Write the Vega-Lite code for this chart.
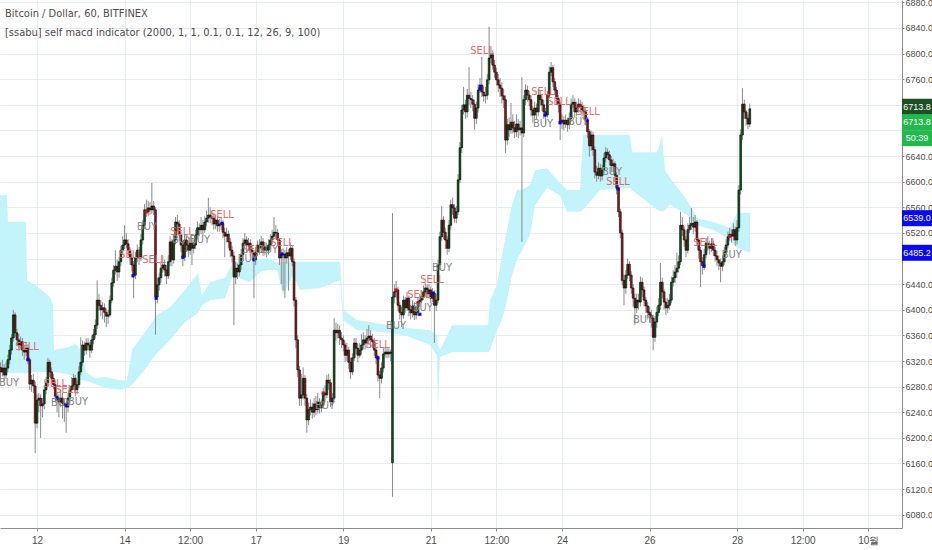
{
"$schema": "https://vega.github.io/schema/vega-lite/v6.json",
"width": 902, "height": 528,
"autosize": {"type": "none"},
"padding": {"left": 0, "top": 0, "right": 30, "bottom": 22},
"background": "white",
"config": {
  "view": {"stroke": null},
  "axis": {"labelFont": "Liberation Sans", "labelFontSize": 10, "labelColor": "#4d4d4d", "domainColor": "#8c8c8c", "tickColor": "#8c8c8c", "gridColor": "#e6edf3", "tickSize": 3, "labelOverlap": false}
},
"resolve": {"scale": {"color": "independent", "fill": "independent"}},
"title": {"text": "Bitcoin / Dollar, 60, BITFINEX", "subtitle": "[ssabu] self macd indicator (2000, 1, 1, 0.1, 0.1, 12, 26, 9, 100)", "anchor": "start", "frame": "group", "orient": "top", "offset": -40, "dx": 5, "font": "Liberation Sans Narrow, DejaVu Sans Condensed, sans-serif", "fontSize": 11, "fontWeight": "normal", "color": "#4d4d4d", "subtitleFont": "Liberation Sans Narrow, DejaVu Sans Condensed, sans-serif", "subtitleFontSize": 11, "subtitleColor": "#4d4d4d", "subtitlePadding": 8},
"datasets": {
"cloud": [
{"t":"2018-09-11T03:00Z","top":6579,"bot":6301},
{"t":"2018-09-11T07:32Z","top":6579,"bot":6301},
{"t":"2018-09-11T08:05Z","top":6537,"bot":6301},
{"t":"2018-09-11T17:58Z","top":6537,"bot":6301},
{"t":"2018-09-11T18:31Z","top":6446,"bot":6301},
{"t":"2018-09-11T22:54Z","top":6439,"bot":6303},
{"t":"2018-09-12T07:08Z","top":6420,"bot":6303},
{"t":"2018-09-12T08:46Z","top":6407,"bot":6303},
{"t":"2018-09-12T09:19Z","top":6337,"bot":6303},
{"t":"2018-09-12T18:06Z","top":6342,"bot":6298},
{"t":"2018-09-12T20:50Z","top":6348,"bot":6293},
{"t":"2018-09-13T00:41Z","top":6334,"bot":6290},
{"t":"2018-09-13T02:53Z","top":6303,"bot":6289},
{"t":"2018-09-13T07:49Z","top":6293,"bot":6284},
{"t":"2018-09-13T13:18Z","top":6295,"bot":6278},
{"t":"2018-09-13T21:32Z","top":6290,"bot":6275},
{"t":"2018-09-14T01:22Z","top":6290,"bot":6278},
{"t":"2018-09-14T04:07Z","top":6337,"bot":6283},
{"t":"2018-09-14T10:09Z","top":6361,"bot":6303},
{"t":"2018-09-14T14:00Z","top":6376,"bot":6318},
{"t":"2018-09-14T17:49Z","top":6392,"bot":6332},
{"t":"2018-09-15T00:58Z","top":6404,"bot":6353},
{"t":"2018-09-15T09:11Z","top":6431,"bot":6381},
{"t":"2018-09-15T16:19Z","top":6457,"bot":6395},
{"t":"2018-09-15T18:31Z","top":6423,"bot":6407},
{"t":"2018-09-15T22:54Z","top":6443,"bot":6415},
{"t":"2018-09-16T07:08Z","top":6450,"bot":6418},
{"t":"2018-09-16T11:31Z","top":6475,"bot":6454},
{"t":"2018-09-16T20:50Z","top":6475,"bot":6443},
{"t":"2018-09-17T02:20Z","top":6478,"bot":6459},
{"t":"2018-09-17T06:43Z","top":6481,"bot":6462},
{"t":"2018-09-17T11:39Z","top":6473,"bot":6462},
{"t":"2018-09-17T14:56Z","top":6475,"bot":6423},
{"t":"2018-09-17T20:26Z","top":6475,"bot":6454},
{"t":"2018-09-18T00:16Z","top":6475,"bot":6431},
{"t":"2018-09-18T11:14Z","top":6475,"bot":6434},
{"t":"2018-09-18T22:13Z","top":6475,"bot":6446},
{"t":"2018-09-18T23:52Z","top":6400,"bot":6384},
{"t":"2018-09-19T07:32Z","top":6384,"bot":6368},
{"t":"2018-09-20T01:38Z","top":6376,"bot":6364},
{"t":"2018-09-20T10:58Z","top":6372,"bot":6359},
{"t":"2018-09-20T23:35Z","top":6368,"bot":6345},
{"t":"2018-09-21T03:25Z","top":6361,"bot":6329},
{"t":"2018-09-21T03:58Z","top":6345,"bot":6248},
{"t":"2018-09-21T05:04Z","top":6337,"bot":6326},
{"t":"2018-09-21T11:39Z","top":6376,"bot":6334},
{"t":"2018-09-22T07:24Z","top":6376,"bot":6334},
{"t":"2018-09-22T08:30Z","top":6415,"bot":6337},
{"t":"2018-09-22T12:20Z","top":6439,"bot":6368},
{"t":"2018-09-22T15:05Z","top":6486,"bot":6384},
{"t":"2018-09-22T17:49Z","top":6525,"bot":6415},
{"t":"2018-09-22T20:34Z","top":6564,"bot":6454},
{"t":"2018-09-22T23:18Z","top":6587,"bot":6478},
{"t":"2018-09-23T02:03Z","top":6587,"bot":6493},
{"t":"2018-09-23T06:26Z","top":6595,"bot":6517},
{"t":"2018-09-23T09:11Z","top":6618,"bot":6563},
{"t":"2018-09-23T15:46Z","top":6621,"bot":6590},
{"t":"2018-09-23T22:54Z","top":6598,"bot":6579},
{"t":"2018-09-24T02:44Z","top":6587,"bot":6553},
{"t":"2018-09-24T09:52Z","top":6587,"bot":6553},
{"t":"2018-09-24T11:31Z","top":6673,"bot":6556},
{"t":"2018-09-24T20:50Z","top":6673,"bot":6587},
{"t":"2018-09-25T13:17Z","top":6673,"bot":6590},
{"t":"2018-09-25T14:23Z","top":6646,"bot":6587},
{"t":"2018-09-26T04:06Z","top":6646,"bot":6556},
{"t":"2018-09-26T06:51Z","top":6673,"bot":6553},
{"t":"2018-09-26T08:30Z","top":6618,"bot":6556},
{"t":"2018-09-26T11:14Z","top":6606,"bot":6564},
{"t":"2018-09-26T20:34Z","top":6571,"bot":6548},
{"t":"2018-09-27T02:03Z","top":6543,"bot":6532},
{"t":"2018-09-27T10:50Z","top":6537,"bot":6525},
{"t":"2018-09-27T20:09Z","top":6528,"bot":6509},
{"t":"2018-09-28T00:00Z","top":6551,"bot":6497},
{"t":"2018-09-28T07:08Z","top":6551,"bot":6489}
],
"candles": [
{"t":"2018-09-11T04:00Z","o":6310,"h":6318,"l":6292,"c":6303},
{"t":"2018-09-11T05:00Z","o":6303,"h":6322,"l":6296,"c":6309},
{"t":"2018-09-11T06:00Z","o":6309,"h":6315,"l":6288,"c":6298},
{"t":"2018-09-11T07:00Z","o":6298,"h":6318,"l":6292,"c":6309},
{"t":"2018-09-11T08:00Z","o":6309,"h":6330,"l":6303,"c":6322},
{"t":"2018-09-11T09:00Z","o":6322,"h":6345,"l":6315,"c":6337},
{"t":"2018-09-11T10:00Z","o":6337,"h":6362,"l":6330,"c":6356},
{"t":"2018-09-11T11:00Z","o":6356,"h":6400,"l":6350,"c":6392},
{"t":"2018-09-11T12:00Z","o":6392,"h":6396,"l":6358,"c":6364},
{"t":"2018-09-11T13:00Z","o":6364,"h":6370,"l":6344,"c":6353},
{"t":"2018-09-11T14:00Z","o":6353,"h":6362,"l":6336,"c":6345},
{"t":"2018-09-11T15:00Z","o":6345,"h":6358,"l":6338,"c":6350},
{"t":"2018-09-11T16:00Z","o":6350,"h":6356,"l":6328,"c":6337},
{"t":"2018-09-11T17:00Z","o":6337,"h":6345,"l":6322,"c":6334},
{"t":"2018-09-11T18:00Z","o":6334,"h":6350,"l":6328,"c":6340},
{"t":"2018-09-11T19:00Z","o":6340,"h":6346,"l":6315,"c":6322},
{"t":"2018-09-11T20:00Z","o":6322,"h":6326,"l":6275,"c":6284},
{"t":"2018-09-11T21:00Z","o":6284,"h":6298,"l":6272,"c":6290},
{"t":"2018-09-11T22:00Z","o":6290,"h":6300,"l":6270,"c":6281},
{"t":"2018-09-11T23:00Z","o":6281,"h":6288,"l":6176,"c":6223},
{"t":"2018-09-12T00:00Z","o":6223,"h":6268,"l":6215,"c":6259},
{"t":"2018-09-12T01:00Z","o":6259,"h":6270,"l":6240,"c":6262},
{"t":"2018-09-12T02:00Z","o":6262,"h":6268,"l":6200,"c":6250},
{"t":"2018-09-12T03:00Z","o":6250,"h":6262,"l":6232,"c":6253},
{"t":"2018-09-12T04:00Z","o":6253,"h":6282,"l":6245,"c":6275},
{"t":"2018-09-12T05:00Z","o":6275,"h":6295,"l":6268,"c":6286},
{"t":"2018-09-12T06:00Z","o":6286,"h":6325,"l":6280,"c":6318},
{"t":"2018-09-12T07:00Z","o":6318,"h":6322,"l":6295,"c":6303},
{"t":"2018-09-12T08:00Z","o":6303,"h":6310,"l":6285,"c":6293},
{"t":"2018-09-12T09:00Z","o":6293,"h":6300,"l":6276,"c":6283},
{"t":"2018-09-12T10:00Z","o":6283,"h":6290,"l":6255,"c":6265},
{"t":"2018-09-12T11:00Z","o":6265,"h":6272,"l":6240,"c":6262},
{"t":"2018-09-12T12:00Z","o":6262,"h":6268,"l":6232,"c":6256},
{"t":"2018-09-12T13:00Z","o":6256,"h":6275,"l":6248,"c":6262},
{"t":"2018-09-12T14:00Z","o":6262,"h":6270,"l":6230,"c":6254},
{"t":"2018-09-12T15:00Z","o":6254,"h":6262,"l":6225,"c":6251},
{"t":"2018-09-12T16:00Z","o":6251,"h":6258,"l":6208,"c":6248},
{"t":"2018-09-12T17:00Z","o":6248,"h":6270,"l":6240,"c":6262},
{"t":"2018-09-12T18:00Z","o":6262,"h":6282,"l":6255,"c":6275},
{"t":"2018-09-12T19:00Z","o":6275,"h":6295,"l":6270,"c":6281},
{"t":"2018-09-12T20:00Z","o":6281,"h":6300,"l":6275,"c":6293},
{"t":"2018-09-12T21:00Z","o":6293,"h":6298,"l":6265,"c":6275},
{"t":"2018-09-12T22:00Z","o":6275,"h":6290,"l":6268,"c":6283},
{"t":"2018-09-12T23:00Z","o":6283,"h":6312,"l":6278,"c":6303},
{"t":"2018-09-13T00:00Z","o":6303,"h":6357,"l":6298,"c":6318},
{"t":"2018-09-13T01:00Z","o":6318,"h":6352,"l":6312,"c":6345},
{"t":"2018-09-13T02:00Z","o":6345,"h":6350,"l":6328,"c":6337},
{"t":"2018-09-13T03:00Z","o":6337,"h":6355,"l":6330,"c":6348},
{"t":"2018-09-13T04:00Z","o":6348,"h":6356,"l":6336,"c":6345},
{"t":"2018-09-13T05:00Z","o":6345,"h":6350,"l":6325,"c":6337},
{"t":"2018-09-13T06:00Z","o":6337,"h":6360,"l":6332,"c":6353},
{"t":"2018-09-13T07:00Z","o":6353,"h":6370,"l":6346,"c":6361},
{"t":"2018-09-13T08:00Z","o":6361,"h":6385,"l":6355,"c":6376},
{"t":"2018-09-13T09:00Z","o":6376,"h":6446,"l":6370,"c":6415},
{"t":"2018-09-13T10:00Z","o":6415,"h":6425,"l":6398,"c":6407},
{"t":"2018-09-13T11:00Z","o":6407,"h":6415,"l":6390,"c":6400},
{"t":"2018-09-13T12:00Z","o":6400,"h":6412,"l":6385,"c":6403},
{"t":"2018-09-13T13:00Z","o":6403,"h":6410,"l":6380,"c":6396},
{"t":"2018-09-13T14:00Z","o":6396,"h":6402,"l":6373,"c":6390},
{"t":"2018-09-13T15:00Z","o":6390,"h":6400,"l":6378,"c":6392},
{"t":"2018-09-13T16:00Z","o":6392,"h":6422,"l":6388,"c":6415},
{"t":"2018-09-13T17:00Z","o":6415,"h":6450,"l":6410,"c":6442},
{"t":"2018-09-13T18:00Z","o":6442,"h":6470,"l":6436,"c":6462},
{"t":"2018-09-13T19:00Z","o":6462,"h":6493,"l":6455,"c":6468},
{"t":"2018-09-13T20:00Z","o":6468,"h":6478,"l":6445,"c":6459},
{"t":"2018-09-13T21:00Z","o":6459,"h":6482,"l":6450,"c":6475},
{"t":"2018-09-13T22:00Z","o":6475,"h":6500,"l":6468,"c":6493},
{"t":"2018-09-13T23:00Z","o":6493,"h":6515,"l":6486,"c":6501},
{"t":"2018-09-14T00:00Z","o":6501,"h":6532,"l":6495,"c":6509},
{"t":"2018-09-14T01:00Z","o":6509,"h":6520,"l":6496,"c":6503},
{"t":"2018-09-14T02:00Z","o":6503,"h":6510,"l":6485,"c":6493},
{"t":"2018-09-14T03:00Z","o":6493,"h":6498,"l":6470,"c":6481},
{"t":"2018-09-14T04:00Z","o":6481,"h":6488,"l":6460,"c":6470},
{"t":"2018-09-14T05:00Z","o":6470,"h":6476,"l":6418,"c":6454},
{"t":"2018-09-14T06:00Z","o":6454,"h":6490,"l":6448,"c":6481},
{"t":"2018-09-14T07:00Z","o":6481,"h":6502,"l":6474,"c":6493},
{"t":"2018-09-14T08:00Z","o":6493,"h":6498,"l":6470,"c":6481},
{"t":"2018-09-14T09:00Z","o":6481,"h":6518,"l":6476,"c":6509},
{"t":"2018-09-14T10:00Z","o":6509,"h":6540,"l":6502,"c":6532},
{"t":"2018-09-14T11:00Z","o":6532,"h":6565,"l":6526,"c":6556},
{"t":"2018-09-14T12:00Z","o":6556,"h":6572,"l":6545,"c":6553},
{"t":"2018-09-14T13:00Z","o":6553,"h":6570,"l":6546,"c":6559},
{"t":"2018-09-14T14:00Z","o":6559,"h":6568,"l":6548,"c":6556},
{"t":"2018-09-14T15:00Z","o":6556,"h":6598,"l":6550,"c":6562},
{"t":"2018-09-14T16:00Z","o":6562,"h":6570,"l":6548,"c":6556},
{"t":"2018-09-14T17:00Z","o":6556,"h":6560,"l":6361,"c":6420},
{"t":"2018-09-14T18:00Z","o":6420,"h":6450,"l":6410,"c":6439},
{"t":"2018-09-14T19:00Z","o":6439,"h":6458,"l":6430,"c":6450},
{"t":"2018-09-14T20:00Z","o":6450,"h":6475,"l":6442,"c":6465},
{"t":"2018-09-14T21:00Z","o":6465,"h":6485,"l":6458,"c":6470},
{"t":"2018-09-14T22:00Z","o":6470,"h":6478,"l":6452,"c":6462},
{"t":"2018-09-14T23:00Z","o":6462,"h":6470,"l":6440,"c":6453},
{"t":"2018-09-15T00:00Z","o":6453,"h":6485,"l":6448,"c":6475},
{"t":"2018-09-15T01:00Z","o":6475,"h":6515,"l":6468,"c":6506},
{"t":"2018-09-15T02:00Z","o":6506,"h":6510,"l":6468,"c":6478},
{"t":"2018-09-15T03:00Z","o":6478,"h":6518,"l":6472,"c":6509},
{"t":"2018-09-15T04:00Z","o":6509,"h":6545,"l":6502,"c":6537},
{"t":"2018-09-15T05:00Z","o":6537,"h":6548,"l":6522,"c":6534},
{"t":"2018-09-15T06:00Z","o":6534,"h":6540,"l":6508,"c":6517},
{"t":"2018-09-15T07:00Z","o":6517,"h":6522,"l":6490,"c":6501},
{"t":"2018-09-15T08:00Z","o":6501,"h":6508,"l":6468,"c":6482},
{"t":"2018-09-15T09:00Z","o":6482,"h":6518,"l":6476,"c":6509},
{"t":"2018-09-15T10:00Z","o":6509,"h":6515,"l":6490,"c":6501},
{"t":"2018-09-15T11:00Z","o":6501,"h":6508,"l":6482,"c":6493},
{"t":"2018-09-15T12:00Z","o":6493,"h":6512,"l":6486,"c":6504},
{"t":"2018-09-15T13:00Z","o":6504,"h":6510,"l":6470,"c":6496},
{"t":"2018-09-15T14:00Z","o":6496,"h":6510,"l":6488,"c":6501},
{"t":"2018-09-15T15:00Z","o":6501,"h":6525,"l":6495,"c":6517},
{"t":"2018-09-15T16:00Z","o":6517,"h":6538,"l":6510,"c":6528},
{"t":"2018-09-15T17:00Z","o":6528,"h":6535,"l":6515,"c":6525},
{"t":"2018-09-15T18:00Z","o":6525,"h":6545,"l":6518,"c":6532},
{"t":"2018-09-15T19:00Z","o":6532,"h":6540,"l":6516,"c":6525},
{"t":"2018-09-15T20:00Z","o":6525,"h":6546,"l":6520,"c":6537},
{"t":"2018-09-15T21:00Z","o":6537,"h":6555,"l":6530,"c":6543},
{"t":"2018-09-15T22:00Z","o":6543,"h":6575,"l":6536,"c":6548},
{"t":"2018-09-15T23:00Z","o":6548,"h":6560,"l":6535,"c":6545},
{"t":"2018-09-16T00:00Z","o":6545,"h":6555,"l":6532,"c":6543},
{"t":"2018-09-16T01:00Z","o":6543,"h":6550,"l":6525,"c":6534},
{"t":"2018-09-16T02:00Z","o":6534,"h":6548,"l":6526,"c":6540},
{"t":"2018-09-16T03:00Z","o":6540,"h":6546,"l":6522,"c":6531},
{"t":"2018-09-16T04:00Z","o":6531,"h":6542,"l":6522,"c":6534},
{"t":"2018-09-16T05:00Z","o":6534,"h":6544,"l":6525,"c":6535},
{"t":"2018-09-16T06:00Z","o":6535,"h":6540,"l":6512,"c":6521},
{"t":"2018-09-16T07:00Z","o":6521,"h":6528,"l":6482,"c":6515},
{"t":"2018-09-16T08:00Z","o":6515,"h":6528,"l":6505,"c":6518},
{"t":"2018-09-16T09:00Z","o":6518,"h":6524,"l":6496,"c":6506},
{"t":"2018-09-16T10:00Z","o":6506,"h":6512,"l":6482,"c":6493},
{"t":"2018-09-16T11:00Z","o":6493,"h":6500,"l":6474,"c":6484},
{"t":"2018-09-16T12:00Z","o":6484,"h":6490,"l":6376,"c":6451},
{"t":"2018-09-16T13:00Z","o":6451,"h":6475,"l":6440,"c":6465},
{"t":"2018-09-16T14:00Z","o":6465,"h":6472,"l":6448,"c":6459},
{"t":"2018-09-16T15:00Z","o":6459,"h":6480,"l":6452,"c":6470},
{"t":"2018-09-16T16:00Z","o":6470,"h":6495,"l":6462,"c":6486},
{"t":"2018-09-16T17:00Z","o":6486,"h":6512,"l":6478,"c":6504},
{"t":"2018-09-16T18:00Z","o":6504,"h":6520,"l":6496,"c":6509},
{"t":"2018-09-16T19:00Z","o":6509,"h":6515,"l":6490,"c":6501},
{"t":"2018-09-16T20:00Z","o":6501,"h":6512,"l":6492,"c":6504},
{"t":"2018-09-16T21:00Z","o":6504,"h":6510,"l":6485,"c":6493},
{"t":"2018-09-16T22:00Z","o":6493,"h":6500,"l":6478,"c":6489},
{"t":"2018-09-16T23:00Z","o":6489,"h":6494,"l":6418,"c":6478},
{"t":"2018-09-17T00:00Z","o":6478,"h":6498,"l":6470,"c":6490},
{"t":"2018-09-17T01:00Z","o":6490,"h":6508,"l":6484,"c":6501},
{"t":"2018-09-17T02:00Z","o":6501,"h":6510,"l":6486,"c":6496},
{"t":"2018-09-17T03:00Z","o":6496,"h":6515,"l":6490,"c":6506},
{"t":"2018-09-17T04:00Z","o":6506,"h":6512,"l":6484,"c":6493},
{"t":"2018-09-17T05:00Z","o":6493,"h":6506,"l":6485,"c":6498},
{"t":"2018-09-17T06:00Z","o":6498,"h":6505,"l":6482,"c":6493},
{"t":"2018-09-17T07:00Z","o":6493,"h":6510,"l":6486,"c":6501},
{"t":"2018-09-17T08:00Z","o":6501,"h":6518,"l":6495,"c":6509},
{"t":"2018-09-17T09:00Z","o":6509,"h":6525,"l":6502,"c":6515},
{"t":"2018-09-17T10:00Z","o":6515,"h":6545,"l":6510,"c":6521},
{"t":"2018-09-17T11:00Z","o":6521,"h":6532,"l":6510,"c":6520},
{"t":"2018-09-17T12:00Z","o":6520,"h":6526,"l":6500,"c":6509},
{"t":"2018-09-17T13:00Z","o":6509,"h":6512,"l":6470,"c":6481},
{"t":"2018-09-17T14:00Z","o":6481,"h":6495,"l":6440,"c":6486},
{"t":"2018-09-17T15:00Z","o":6486,"h":6496,"l":6430,"c":6487},
{"t":"2018-09-17T16:00Z","o":6487,"h":6494,"l":6418,"c":6481},
{"t":"2018-09-17T17:00Z","o":6481,"h":6498,"l":6472,"c":6489},
{"t":"2018-09-17T18:00Z","o":6489,"h":6495,"l":6430,"c":6484},
{"t":"2018-09-17T19:00Z","o":6484,"h":6505,"l":6478,"c":6496},
{"t":"2018-09-17T20:00Z","o":6496,"h":6500,"l":6468,"c":6475},
{"t":"2018-09-17T21:00Z","o":6475,"h":6480,"l":6405,"c":6415},
{"t":"2018-09-17T22:00Z","o":6415,"h":6420,"l":6340,"c":6353},
{"t":"2018-09-17T23:00Z","o":6353,"h":6360,"l":6295,"c":6306},
{"t":"2018-09-18T00:00Z","o":6306,"h":6312,"l":6250,"c":6262},
{"t":"2018-09-18T01:00Z","o":6262,"h":6300,"l":6250,"c":6267},
{"t":"2018-09-18T02:00Z","o":6267,"h":6310,"l":6260,"c":6293},
{"t":"2018-09-18T03:00Z","o":6293,"h":6298,"l":6250,"c":6262},
{"t":"2018-09-18T04:00Z","o":6262,"h":6268,"l":6208,"c":6228},
{"t":"2018-09-18T05:00Z","o":6228,"h":6255,"l":6220,"c":6244},
{"t":"2018-09-18T06:00Z","o":6244,"h":6260,"l":6235,"c":6248},
{"t":"2018-09-18T07:00Z","o":6248,"h":6255,"l":6230,"c":6240},
{"t":"2018-09-18T08:00Z","o":6240,"h":6262,"l":6232,"c":6253},
{"t":"2018-09-18T09:00Z","o":6253,"h":6265,"l":6235,"c":6244},
{"t":"2018-09-18T10:00Z","o":6244,"h":6270,"l":6238,"c":6256},
{"t":"2018-09-18T11:00Z","o":6256,"h":6262,"l":6238,"c":6247},
{"t":"2018-09-18T12:00Z","o":6247,"h":6260,"l":6240,"c":6251},
{"t":"2018-09-18T13:00Z","o":6251,"h":6278,"l":6245,"c":6270},
{"t":"2018-09-18T14:00Z","o":6270,"h":6282,"l":6255,"c":6267},
{"t":"2018-09-18T15:00Z","o":6267,"h":6298,"l":6262,"c":6290},
{"t":"2018-09-18T16:00Z","o":6290,"h":6300,"l":6275,"c":6286},
{"t":"2018-09-18T17:00Z","o":6286,"h":6292,"l":6248,"c":6256},
{"t":"2018-09-18T18:00Z","o":6256,"h":6270,"l":6250,"c":6262},
{"t":"2018-09-18T19:00Z","o":6262,"h":6387,"l":6258,"c":6368},
{"t":"2018-09-18T20:00Z","o":6368,"h":6380,"l":6352,"c":6364},
{"t":"2018-09-18T21:00Z","o":6364,"h":6378,"l":6355,"c":6368},
{"t":"2018-09-18T22:00Z","o":6368,"h":6375,"l":6345,"c":6356},
{"t":"2018-09-18T23:00Z","o":6356,"h":6365,"l":6340,"c":6353},
{"t":"2018-09-19T00:00Z","o":6353,"h":6360,"l":6335,"c":6345},
{"t":"2018-09-19T01:00Z","o":6345,"h":6350,"l":6318,"c":6329},
{"t":"2018-09-19T02:00Z","o":6329,"h":6348,"l":6320,"c":6337},
{"t":"2018-09-19T03:00Z","o":6337,"h":6342,"l":6308,"c":6318},
{"t":"2018-09-19T04:00Z","o":6318,"h":6325,"l":6292,"c":6303},
{"t":"2018-09-19T05:00Z","o":6303,"h":6332,"l":6298,"c":6325},
{"t":"2018-09-19T06:00Z","o":6325,"h":6356,"l":6320,"c":6348},
{"t":"2018-09-19T07:00Z","o":6348,"h":6356,"l":6330,"c":6340},
{"t":"2018-09-19T08:00Z","o":6340,"h":6348,"l":6318,"c":6329},
{"t":"2018-09-19T09:00Z","o":6329,"h":6348,"l":6325,"c":6337},
{"t":"2018-09-19T10:00Z","o":6337,"h":6362,"l":6330,"c":6345},
{"t":"2018-09-19T11:00Z","o":6345,"h":6365,"l":6338,"c":6353},
{"t":"2018-09-19T12:00Z","o":6353,"h":6360,"l":6338,"c":6348},
{"t":"2018-09-19T13:00Z","o":6348,"h":6370,"l":6340,"c":6356},
{"t":"2018-09-19T14:00Z","o":6356,"h":6376,"l":6346,"c":6359},
{"t":"2018-09-19T15:00Z","o":6359,"h":6368,"l":6342,"c":6353},
{"t":"2018-09-19T16:00Z","o":6353,"h":6362,"l":6340,"c":6350},
{"t":"2018-09-19T17:00Z","o":6350,"h":6356,"l":6328,"c":6337},
{"t":"2018-09-19T18:00Z","o":6337,"h":6342,"l":6315,"c":6325},
{"t":"2018-09-19T19:00Z","o":6325,"h":6330,"l":6288,"c":6298},
{"t":"2018-09-19T20:00Z","o":6298,"h":6305,"l":6262,"c":6293},
{"t":"2018-09-19T21:00Z","o":6293,"h":6318,"l":6285,"c":6309},
{"t":"2018-09-19T22:00Z","o":6309,"h":6340,"l":6302,"c":6331},
{"t":"2018-09-19T23:00Z","o":6331,"h":6342,"l":6325,"c":6334},
{"t":"2018-09-20T00:00Z","o":6334,"h":6340,"l":6324,"c":6331},
{"t":"2018-09-20T01:00Z","o":6331,"h":6340,"l":6325,"c":6334},
{"t":"2018-09-20T02:00Z","o":6334,"h":6338,"l":6320,"c":6332},
{"t":"2018-09-20T03:00Z","o":6161,"h":6551,"l":6108,"c":6420},
{"t":"2018-09-20T04:00Z","o":6420,"h":6440,"l":6410,"c":6428},
{"t":"2018-09-20T05:00Z","o":6428,"h":6445,"l":6418,"c":6431},
{"t":"2018-09-20T06:00Z","o":6431,"h":6436,"l":6398,"c":6407},
{"t":"2018-09-20T07:00Z","o":6407,"h":6412,"l":6385,"c":6396},
{"t":"2018-09-20T08:00Z","o":6396,"h":6405,"l":6373,"c":6392},
{"t":"2018-09-20T09:00Z","o":6392,"h":6422,"l":6386,"c":6415},
{"t":"2018-09-20T10:00Z","o":6415,"h":6420,"l":6395,"c":6403},
{"t":"2018-09-20T11:00Z","o":6403,"h":6428,"l":6398,"c":6418},
{"t":"2018-09-20T12:00Z","o":6418,"h":6422,"l":6390,"c":6400},
{"t":"2018-09-20T13:00Z","o":6400,"h":6408,"l":6385,"c":6395},
{"t":"2018-09-20T14:00Z","o":6395,"h":6415,"l":6388,"c":6406},
{"t":"2018-09-20T15:00Z","o":6406,"h":6412,"l":6384,"c":6392},
{"t":"2018-09-20T16:00Z","o":6392,"h":6405,"l":6385,"c":6396},
{"t":"2018-09-20T17:00Z","o":6396,"h":6420,"l":6390,"c":6412},
{"t":"2018-09-20T18:00Z","o":6412,"h":6425,"l":6405,"c":6415},
{"t":"2018-09-20T19:00Z","o":6415,"h":6430,"l":6410,"c":6421},
{"t":"2018-09-20T20:00Z","o":6421,"h":6438,"l":6415,"c":6428},
{"t":"2018-09-20T21:00Z","o":6428,"h":6442,"l":6420,"c":6434},
{"t":"2018-09-20T22:00Z","o":6434,"h":6440,"l":6418,"c":6425},
{"t":"2018-09-20T23:00Z","o":6425,"h":6440,"l":6418,"c":6431},
{"t":"2018-09-21T00:00Z","o":6431,"h":6436,"l":6410,"c":6418},
{"t":"2018-09-21T01:00Z","o":6418,"h":6434,"l":6412,"c":6426},
{"t":"2018-09-21T02:00Z","o":6426,"h":6430,"l":6348,"c":6407},
{"t":"2018-09-21T03:00Z","o":6407,"h":6425,"l":6398,"c":6415},
{"t":"2018-09-21T04:00Z","o":6415,"h":6478,"l":6410,"c":6470},
{"t":"2018-09-21T05:00Z","o":6470,"h":6522,"l":6462,"c":6514},
{"t":"2018-09-21T06:00Z","o":6514,"h":6562,"l":6508,"c":6540},
{"t":"2018-09-21T07:00Z","o":6540,"h":6546,"l":6510,"c":6521},
{"t":"2018-09-21T08:00Z","o":6521,"h":6528,"l":6495,"c":6509},
{"t":"2018-09-21T09:00Z","o":6509,"h":6515,"l":6486,"c":6496},
{"t":"2018-09-21T10:00Z","o":6496,"h":6540,"l":6490,"c":6532},
{"t":"2018-09-21T11:00Z","o":6532,"h":6572,"l":6525,"c":6564},
{"t":"2018-09-21T12:00Z","o":6564,"h":6575,"l":6548,"c":6559},
{"t":"2018-09-21T13:00Z","o":6559,"h":6565,"l":6536,"c":6543},
{"t":"2018-09-21T14:00Z","o":6543,"h":6562,"l":6535,"c":6553},
{"t":"2018-09-21T15:00Z","o":6553,"h":6612,"l":6548,"c":6603},
{"t":"2018-09-21T16:00Z","o":6603,"h":6662,"l":6598,"c":6653},
{"t":"2018-09-21T17:00Z","o":6653,"h":6720,"l":6645,"c":6712},
{"t":"2018-09-21T18:00Z","o":6712,"h":6748,"l":6705,"c":6720},
{"t":"2018-09-21T19:00Z","o":6720,"h":6728,"l":6698,"c":6709},
{"t":"2018-09-21T20:00Z","o":6709,"h":6745,"l":6700,"c":6735},
{"t":"2018-09-21T21:00Z","o":6735,"h":6779,"l":6720,"c":6730},
{"t":"2018-09-21T22:00Z","o":6730,"h":6740,"l":6715,"c":6728},
{"t":"2018-09-21T23:00Z","o":6728,"h":6735,"l":6710,"c":6721},
{"t":"2018-09-22T00:00Z","o":6721,"h":6728,"l":6681,"c":6699},
{"t":"2018-09-22T01:00Z","o":6699,"h":6725,"l":6690,"c":6715},
{"t":"2018-09-22T02:00Z","o":6715,"h":6752,"l":6708,"c":6743},
{"t":"2018-09-22T03:00Z","o":6743,"h":6762,"l":6738,"c":6751},
{"t":"2018-09-22T04:00Z","o":6751,"h":6795,"l":6732,"c":6740},
{"t":"2018-09-22T05:00Z","o":6740,"h":6750,"l":6725,"c":6734},
{"t":"2018-09-22T06:00Z","o":6734,"h":6748,"l":6722,"c":6735},
{"t":"2018-09-22T07:00Z","o":6735,"h":6768,"l":6728,"c":6759},
{"t":"2018-09-22T08:00Z","o":6759,"h":6842,"l":6752,"c":6793},
{"t":"2018-09-22T09:00Z","o":6793,"h":6812,"l":6785,"c":6798},
{"t":"2018-09-22T10:00Z","o":6798,"h":6805,"l":6775,"c":6782},
{"t":"2018-09-22T11:00Z","o":6782,"h":6790,"l":6762,"c":6771},
{"t":"2018-09-22T12:00Z","o":6771,"h":6778,"l":6750,"c":6759},
{"t":"2018-09-22T13:00Z","o":6759,"h":6768,"l":6740,"c":6751},
{"t":"2018-09-22T14:00Z","o":6751,"h":6762,"l":6732,"c":6746},
{"t":"2018-09-22T15:00Z","o":6746,"h":6755,"l":6722,"c":6734},
{"t":"2018-09-22T16:00Z","o":6734,"h":6745,"l":6715,"c":6728},
{"t":"2018-09-22T17:00Z","o":6728,"h":6735,"l":6645,"c":6665},
{"t":"2018-09-22T18:00Z","o":6665,"h":6698,"l":6658,"c":6689},
{"t":"2018-09-22T19:00Z","o":6689,"h":6700,"l":6670,"c":6681},
{"t":"2018-09-22T20:00Z","o":6681,"h":6723,"l":6675,"c":6693},
{"t":"2018-09-22T21:00Z","o":6693,"h":6705,"l":6675,"c":6684},
{"t":"2018-09-22T22:00Z","o":6684,"h":6695,"l":6668,"c":6678},
{"t":"2018-09-22T23:00Z","o":6678,"h":6705,"l":6670,"c":6690},
{"t":"2018-09-23T00:00Z","o":6690,"h":6698,"l":6668,"c":6681},
{"t":"2018-09-23T01:00Z","o":6681,"h":6695,"l":6672,"c":6684},
{"t":"2018-09-23T02:00Z","o":6684,"h":6763,"l":6506,"c":6676},
{"t":"2018-09-23T03:00Z","o":6676,"h":6735,"l":6670,"c":6728},
{"t":"2018-09-23T04:00Z","o":6728,"h":6752,"l":6720,"c":6743},
{"t":"2018-09-23T05:00Z","o":6743,"h":6750,"l":6725,"c":6735},
{"t":"2018-09-23T06:00Z","o":6735,"h":6742,"l":6718,"c":6728},
{"t":"2018-09-23T07:00Z","o":6728,"h":6735,"l":6702,"c":6712},
{"t":"2018-09-23T08:00Z","o":6712,"h":6718,"l":6692,"c":6704},
{"t":"2018-09-23T09:00Z","o":6704,"h":6725,"l":6698,"c":6715},
{"t":"2018-09-23T10:00Z","o":6715,"h":6722,"l":6698,"c":6709},
{"t":"2018-09-23T11:00Z","o":6709,"h":6745,"l":6702,"c":6735},
{"t":"2018-09-23T12:00Z","o":6735,"h":6742,"l":6718,"c":6728},
{"t":"2018-09-23T13:00Z","o":6728,"h":6735,"l":6710,"c":6720},
{"t":"2018-09-23T14:00Z","o":6720,"h":6728,"l":6698,"c":6709},
{"t":"2018-09-23T15:00Z","o":6709,"h":6715,"l":6690,"c":6704},
{"t":"2018-09-23T16:00Z","o":6704,"h":6742,"l":6700,"c":6735},
{"t":"2018-09-23T17:00Z","o":6735,"h":6780,"l":6730,"c":6771},
{"t":"2018-09-23T18:00Z","o":6771,"h":6787,"l":6765,"c":6778},
{"t":"2018-09-23T19:00Z","o":6778,"h":6782,"l":6748,"c":6756},
{"t":"2018-09-23T20:00Z","o":6756,"h":6762,"l":6735,"c":6743},
{"t":"2018-09-23T21:00Z","o":6743,"h":6748,"l":6720,"c":6730},
{"t":"2018-09-23T22:00Z","o":6730,"h":6735,"l":6708,"c":6720},
{"t":"2018-09-23T23:00Z","o":6720,"h":6725,"l":6665,"c":6693},
{"t":"2018-09-24T00:00Z","o":6693,"h":6705,"l":6682,"c":6696},
{"t":"2018-09-24T01:00Z","o":6696,"h":6702,"l":6680,"c":6690},
{"t":"2018-09-24T02:00Z","o":6690,"h":6705,"l":6684,"c":6696},
{"t":"2018-09-24T03:00Z","o":6696,"h":6700,"l":6678,"c":6689},
{"t":"2018-09-24T04:00Z","o":6689,"h":6708,"l":6682,"c":6699},
{"t":"2018-09-24T05:00Z","o":6699,"h":6730,"l":6694,"c":6721},
{"t":"2018-09-24T06:00Z","o":6721,"h":6735,"l":6715,"c":6724},
{"t":"2018-09-24T07:00Z","o":6724,"h":6730,"l":6700,"c":6709},
{"t":"2018-09-24T08:00Z","o":6709,"h":6725,"l":6702,"c":6715},
{"t":"2018-09-24T09:00Z","o":6715,"h":6730,"l":6708,"c":6721},
{"t":"2018-09-24T10:00Z","o":6721,"h":6728,"l":6708,"c":6718},
{"t":"2018-09-24T11:00Z","o":6718,"h":6725,"l":6702,"c":6712},
{"t":"2018-09-24T12:00Z","o":6712,"h":6720,"l":6698,"c":6709},
{"t":"2018-09-24T13:00Z","o":6709,"h":6715,"l":6688,"c":6696},
{"t":"2018-09-24T14:00Z","o":6696,"h":6700,"l":6668,"c":6678},
{"t":"2018-09-24T15:00Z","o":6678,"h":6682,"l":6639,"c":6656},
{"t":"2018-09-24T16:00Z","o":6656,"h":6680,"l":6648,"c":6673},
{"t":"2018-09-24T17:00Z","o":6673,"h":6678,"l":6640,"c":6650},
{"t":"2018-09-24T18:00Z","o":6650,"h":6655,"l":6605,"c":6615},
{"t":"2018-09-24T19:00Z","o":6615,"h":6625,"l":6600,"c":6610},
{"t":"2018-09-24T20:00Z","o":6610,"h":6630,"l":6604,"c":6621},
{"t":"2018-09-24T21:00Z","o":6621,"h":6628,"l":6600,"c":6609},
{"t":"2018-09-24T22:00Z","o":6609,"h":6626,"l":6602,"c":6618},
{"t":"2018-09-24T23:00Z","o":6618,"h":6645,"l":6612,"c":6637},
{"t":"2018-09-25T00:00Z","o":6637,"h":6654,"l":6630,"c":6646},
{"t":"2018-09-25T01:00Z","o":6646,"h":6652,"l":6635,"c":6642},
{"t":"2018-09-25T02:00Z","o":6642,"h":6648,"l":6625,"c":6634},
{"t":"2018-09-25T03:00Z","o":6634,"h":6640,"l":6615,"c":6625},
{"t":"2018-09-25T04:00Z","o":6625,"h":6636,"l":6615,"c":6628},
{"t":"2018-09-25T05:00Z","o":6628,"h":6632,"l":6600,"c":6610},
{"t":"2018-09-25T06:00Z","o":6610,"h":6615,"l":6580,"c":6590},
{"t":"2018-09-25T07:00Z","o":6590,"h":6595,"l":6545,"c":6553},
{"t":"2018-09-25T08:00Z","o":6553,"h":6558,"l":6512,"c":6520},
{"t":"2018-09-25T09:00Z","o":6520,"h":6525,"l":6438,"c":6446},
{"t":"2018-09-25T10:00Z","o":6446,"h":6455,"l":6407,"c":6434},
{"t":"2018-09-25T11:00Z","o":6434,"h":6462,"l":6425,"c":6454},
{"t":"2018-09-25T12:00Z","o":6454,"h":6480,"l":6448,"c":6471},
{"t":"2018-09-25T13:00Z","o":6471,"h":6476,"l":6445,"c":6454},
{"t":"2018-09-25T14:00Z","o":6454,"h":6460,"l":6425,"c":6434},
{"t":"2018-09-25T15:00Z","o":6434,"h":6440,"l":6405,"c":6418},
{"t":"2018-09-25T16:00Z","o":6418,"h":6425,"l":6376,"c":6403},
{"t":"2018-09-25T17:00Z","o":6403,"h":6425,"l":6395,"c":6415},
{"t":"2018-09-25T18:00Z","o":6415,"h":6425,"l":6400,"c":6412},
{"t":"2018-09-25T19:00Z","o":6412,"h":6452,"l":6405,"c":6443},
{"t":"2018-09-25T20:00Z","o":6443,"h":6450,"l":6420,"c":6431},
{"t":"2018-09-25T21:00Z","o":6431,"h":6436,"l":6405,"c":6415},
{"t":"2018-09-25T22:00Z","o":6415,"h":6420,"l":6395,"c":6406},
{"t":"2018-09-25T23:00Z","o":6406,"h":6412,"l":6385,"c":6396},
{"t":"2018-09-26T00:00Z","o":6396,"h":6405,"l":6380,"c":6392},
{"t":"2018-09-26T01:00Z","o":6392,"h":6400,"l":6372,"c":6387},
{"t":"2018-09-26T02:00Z","o":6387,"h":6392,"l":6337,"c":6357},
{"t":"2018-09-26T03:00Z","o":6357,"h":6390,"l":6350,"c":6381},
{"t":"2018-09-26T04:00Z","o":6381,"h":6405,"l":6372,"c":6396},
{"t":"2018-09-26T05:00Z","o":6396,"h":6418,"l":6390,"c":6407},
{"t":"2018-09-26T06:00Z","o":6407,"h":6473,"l":6400,"c":6443},
{"t":"2018-09-26T07:00Z","o":6443,"h":6450,"l":6418,"c":6428},
{"t":"2018-09-26T08:00Z","o":6428,"h":6432,"l":6400,"c":6412},
{"t":"2018-09-26T09:00Z","o":6412,"h":6418,"l":6392,"c":6403},
{"t":"2018-09-26T10:00Z","o":6403,"h":6418,"l":6395,"c":6407},
{"t":"2018-09-26T11:00Z","o":6407,"h":6425,"l":6400,"c":6415},
{"t":"2018-09-26T12:00Z","o":6415,"h":6452,"l":6410,"c":6443},
{"t":"2018-09-26T13:00Z","o":6443,"h":6462,"l":6436,"c":6450},
{"t":"2018-09-26T14:00Z","o":6450,"h":6470,"l":6442,"c":6459},
{"t":"2018-09-26T15:00Z","o":6459,"h":6489,"l":6450,"c":6465},
{"t":"2018-09-26T16:00Z","o":6465,"h":6485,"l":6458,"c":6475},
{"t":"2018-09-26T17:00Z","o":6475,"h":6553,"l":6470,"c":6532},
{"t":"2018-09-26T18:00Z","o":6532,"h":6545,"l":6515,"c":6525},
{"t":"2018-09-26T19:00Z","o":6525,"h":6530,"l":6498,"c":6509},
{"t":"2018-09-26T20:00Z","o":6509,"h":6515,"l":6482,"c":6493},
{"t":"2018-09-26T21:00Z","o":6493,"h":6535,"l":6488,"c":6525},
{"t":"2018-09-26T22:00Z","o":6525,"h":6545,"l":6520,"c":6532},
{"t":"2018-09-26T23:00Z","o":6532,"h":6559,"l":6525,"c":6535},
{"t":"2018-09-27T00:00Z","o":6535,"h":6545,"l":6518,"c":6529},
{"t":"2018-09-27T01:00Z","o":6529,"h":6548,"l":6522,"c":6537},
{"t":"2018-09-27T02:00Z","o":6537,"h":6540,"l":6500,"c":6509},
{"t":"2018-09-27T03:00Z","o":6509,"h":6512,"l":6480,"c":6493},
{"t":"2018-09-27T04:00Z","o":6493,"h":6498,"l":6436,"c":6475},
{"t":"2018-09-27T05:00Z","o":6475,"h":6482,"l":6455,"c":6469},
{"t":"2018-09-27T06:00Z","o":6469,"h":6495,"l":6462,"c":6486},
{"t":"2018-09-27T07:00Z","o":6486,"h":6512,"l":6480,"c":6504},
{"t":"2018-09-27T08:00Z","o":6504,"h":6515,"l":6492,"c":6501},
{"t":"2018-09-27T09:00Z","o":6501,"h":6508,"l":6486,"c":6496},
{"t":"2018-09-27T10:00Z","o":6496,"h":6512,"l":6490,"c":6503},
{"t":"2018-09-27T11:00Z","o":6503,"h":6508,"l":6484,"c":6493},
{"t":"2018-09-27T12:00Z","o":6493,"h":6498,"l":6475,"c":6484},
{"t":"2018-09-27T13:00Z","o":6484,"h":6492,"l":6468,"c":6478},
{"t":"2018-09-27T14:00Z","o":6478,"h":6485,"l":6462,"c":6473},
{"t":"2018-09-27T15:00Z","o":6473,"h":6480,"l":6443,"c":6468},
{"t":"2018-09-27T16:00Z","o":6468,"h":6485,"l":6460,"c":6475},
{"t":"2018-09-27T17:00Z","o":6475,"h":6498,"l":6470,"c":6490},
{"t":"2018-09-27T18:00Z","o":6490,"h":6510,"l":6485,"c":6501},
{"t":"2018-09-27T19:00Z","o":6501,"h":6522,"l":6496,"c":6514},
{"t":"2018-09-27T20:00Z","o":6514,"h":6528,"l":6508,"c":6518},
{"t":"2018-09-27T21:00Z","o":6518,"h":6526,"l":6505,"c":6515},
{"t":"2018-09-27T22:00Z","o":6515,"h":6535,"l":6508,"c":6525},
{"t":"2018-09-27T23:00Z","o":6525,"h":6530,"l":6500,"c":6509},
{"t":"2018-09-28T00:00Z","o":6509,"h":6540,"l":6502,"c":6528},
{"t":"2018-09-28T01:00Z","o":6528,"h":6595,"l":6522,"c":6587},
{"t":"2018-09-28T02:00Z","o":6587,"h":6682,"l":6580,"c":6673},
{"t":"2018-09-28T03:00Z","o":6673,"h":6746,"l":6665,"c":6721},
{"t":"2018-09-28T04:00Z","o":6721,"h":6728,"l":6698,"c":6709},
{"t":"2018-09-28T05:00Z","o":6709,"h":6712,"l":6688,"c":6699},
{"t":"2018-09-28T06:00Z","o":6699,"h":6705,"l":6682,"c":6690},
{"t":"2018-09-28T07:00Z","o":6690,"h":6722,"l":6685,"c":6713.8}
],
"signals": [
{"t":"2018-09-11T18:30Z","p":6342,"label":"SELL"},
{"t":"2018-09-12T10:00Z","p":6284,"label":"SELL"},
{"t":"2018-09-12T16:30Z","p":6275,"label":"SELL"},
{"t":"2018-09-14T03:30Z","p":6486,"label":"SELL"},
{"t":"2018-09-14T16:10Z","p":6478,"label":"SELL"},
{"t":"2018-09-15T07:30Z","p":6521,"label":"SELL"},
{"t":"2018-09-16T05:30Z","p":6548,"label":"SELL"},
{"t":"2018-09-16T23:00Z","p":6493,"label":"SELL"},
{"t":"2018-09-17T14:25Z","p":6504,"label":"SELL"},
{"t":"2018-09-19T19:00Z","p":6345,"label":"SELL"},
{"t":"2018-09-20T17:30Z","p":6423,"label":"SELL"},
{"t":"2018-09-21T00:40Z","p":6446,"label":"SELL"},
{"t":"2018-09-22T04:05Z","p":6804,"label":"SELL"},
{"t":"2018-09-23T13:35Z","p":6740,"label":"SELL"},
{"t":"2018-09-23T22:20Z","p":6724,"label":"SELL"},
{"t":"2018-09-24T14:15Z","p":6709,"label":"SELL"},
{"t":"2018-09-25T06:40Z","p":6600,"label":"SELL"},
{"t":"2018-09-27T06:25Z","p":6504,"label":"SELL"},
{"t":"2018-09-11T08:40Z","p":6286,"label":"BUY"},
{"t":"2018-09-12T13:10Z","p":6254,"label":"BUY"},
{"t":"2018-09-12T22:30Z","p":6256,"label":"BUY"},
{"t":"2018-09-14T12:20Z","p":6529,"label":"BUY"},
{"t":"2018-09-15T07:30Z","p":6509,"label":"BUY"},
{"t":"2018-09-15T17:25Z","p":6509,"label":"BUY"},
{"t":"2018-09-16T19:40Z","p":6479,"label":"BUY"},
{"t":"2018-09-17T06:40Z","p":6493,"label":"BUY"},
{"t":"2018-09-18T14:00Z","p":6250,"label":"BUY"},
{"t":"2018-09-20T04:55Z","p":6375,"label":"BUY"},
{"t":"2018-09-20T19:40Z","p":6403,"label":"BUY"},
{"t":"2018-09-21T06:10Z","p":6465,"label":"BUY"},
{"t":"2018-09-23T13:35Z","p":6690,"label":"BUY"},
{"t":"2018-09-24T08:50Z","p":6693,"label":"BUY"},
{"t":"2018-09-25T03:25Z","p":6615,"label":"BUY"},
{"t":"2018-09-25T20:25Z","p":6384,"label":"BUY"},
{"t":"2018-09-27T21:10Z","p":6485,"label":"BUY"}
],
"dots": [
{"t":"2018-09-11T19:00Z","p":6322,"side":"short"},
{"t":"2018-09-12T11:00Z","p":6261,"side":"short"},
{"t":"2018-09-12T16:30Z","p":6251,"side":"short"},
{"t":"2018-09-14T04:40Z","p":6453,"side":"short"},
{"t":"2018-09-14T17:20Z","p":6418,"side":"short"},
{"t":"2018-09-15T08:00Z","p":6482,"side":"short"},
{"t":"2018-09-16T05:30Z","p":6535,"side":"short"},
{"t":"2018-09-16T23:00Z","p":6478,"side":"short"},
{"t":"2018-09-17T14:25Z","p":6487,"side":"short"},
{"t":"2018-09-19T19:00Z","p":6325,"side":"short"},
{"t":"2018-09-20T18:00Z","p":6393,"side":"short"},
{"t":"2018-09-21T01:10Z","p":6426,"side":"short"},
{"t":"2018-09-22T03:00Z","p":6745,"side":"short"},
{"t":"2018-09-23T14:40Z","p":6704,"side":"short"},
{"t":"2018-09-23T22:55Z","p":6692,"side":"short"},
{"t":"2018-09-24T13:40Z","p":6696,"side":"short"},
{"t":"2018-09-25T06:40Z","p":6589,"side":"short"},
{"t":"2018-09-27T05:55Z","p":6468,"side":"short"},
{"t":"2018-09-14T12:00Z","p":6553,"side":"long"},
{"t":"2018-09-18T13:00Z","p":6270,"side":"long"},
{"t":"2018-09-20T05:00Z","p":6431,"side":"long"},
{"t":"2018-09-20T17:00Z","p":6411,"side":"long"},
{"t":"2018-09-23T16:20Z","p":6735,"side":"long"},
{"t":"2018-09-24T10:00Z","p":6718,"side":"long"},
{"t":"2018-09-27T20:00Z","p":6515,"side":"long"}
],
"tags": [
{"tag":"6713.8","p":6717,"kind":"last"},
{"tag":"6713.8","p":6693,"kind":"price"},
{"tag":"50:39","p":6668,"kind":"price"},
{"tag":"6539.0","p":6543,"kind":"indicator"},
{"tag":"6485.2","p":6489,"kind":"indicator"}
]
},
"layer": [
{
 "data": {"name": "cloud"},
 "mark": {"type": "area", "color": "#c3f4fb", "opacity": 1},
 "encoding": {
  "x": {"field": "t", "type": "temporal", "title": null,
   "scale": {"type": "utc", "padding": 0, "domain": [{"year":2018,"month":9,"date":11,"hours":3,"minutes":42,"utc":true},{"year":2018,"month":10,"date":1,"hours":18,"minutes":30,"utc":true}]},
   "axis": {"values": [{"year":2018,"month":9,"date":12,"utc":true},{"year":2018,"month":9,"date":14,"utc":true},{"year":2018,"month":9,"date":15,"hours":12,"utc":true},{"year":2018,"month":9,"date":17,"utc":true},{"year":2018,"month":9,"date":19,"utc":true},{"year":2018,"month":9,"date":21,"utc":true},{"year":2018,"month":9,"date":22,"hours":12,"utc":true},{"year":2018,"month":9,"date":24,"utc":true},{"year":2018,"month":9,"date":26,"utc":true},{"year":2018,"month":9,"date":28,"utc":true},{"year":2018,"month":9,"date":29,"hours":12,"utc":true},{"year":2018,"month":10,"date":1,"utc":true}],
    "tickCount": 40,
    "labelExpr": "utchours(datum.value) == 12 ? '12:00' : (utcdate(datum.value) == 1 ? '10월' : '' + utcdate(datum.value))",
    "grid": true, "title": null, "labelPadding": 4, "labelOverlap": false, "labelFlush": false}},
  "y": {"field": "top", "type": "quantitative", "title": null,
   "scale": {"domain": [6059.25, 6883.7], "nice": false, "zero": false, "padding": 0},
   "axis": {"orient": "right", "values": [6080,6120,6160,6200,6240,6280,6320,6360,6400,6440,6480,6520,6560,6600,6640,6680,6720,6760,6800,6840,6880], "tickCount": 40,
    "labelExpr": "(datum.value == 6720 || datum.value == 6680 || datum.value == 6480) ? '' : format(datum.value, '.1f')",
    "grid": true, "title": null, "labelOverlap": false, "labelFlush": false, "labelPadding": 1, "tickSize": 2, "labelFontSize": 9}},
  "y2": {"field": "bot"}
 }
},
{
 "data": {"name": "candles"},
 "mark": {"type": "rule", "color": "#8a8a8a", "strokeWidth": 1},
 "encoding": {
  "x": {"field": "t", "type": "temporal", "title": null},
  "y": {"field": "l", "type": "quantitative", "title": null},
  "y2": {"field": "h"}
 }
},
{
 "data": {"name": "candles"},
 "mark": {"type": "bar", "width": 1.8, "stroke": "#000000", "strokeWidth": 0.6},
 "encoding": {
  "x": {"field": "t", "type": "temporal", "title": null},
  "y": {"field": "o", "type": "quantitative", "title": null},
  "y2": {"field": "c"},
  "color": {"condition": {"test": "datum.c >= datum.o", "value": "#0e5a1f"}, "value": "#a3151b"}
 }
},
{
 "data": {"name": "dots"},
 "mark": {"type": "square", "size": 10, "opacity": 1},
 "encoding": {
  "x": {"field": "t", "type": "temporal", "title": null},
  "y": {"field": "p", "type": "quantitative", "title": null},
  "color": {"field": "side", "type": "nominal", "scale": {"domain": ["short", "long"], "range": ["#0000ff", "#cc1111"]}, "legend": null}
 }
},
{
 "data": {"name": "signals"},
 "mark": {"type": "text", "font": "Liberation Sans Narrow, DejaVu Sans Condensed, sans-serif", "fontSize": 11, "align": "center", "baseline": "middle"},
 "encoding": {
  "x": {"field": "t", "type": "temporal", "title": null},
  "y": {"field": "p", "type": "quantitative", "title": null},
  "text": {"field": "label"},
  "fill": {"field": "label", "type": "nominal", "scale": {"domain": ["SELL", "BUY"], "range": ["#e06b6b", "#858585"]}, "legend": null}
 }
},
{
 "data": {"name": "tags"},
 "mark": {"type": "bar", "height": 16, "clip": false},
 "encoding": {
  "x": {"datum": {"year":2018,"month":10,"date":1,"hours":18,"minutes":30,"utc":true}, "type": "temporal", "title": null},
  "x2": {"datum": {"year":2018,"month":10,"date":2,"hours":12,"utc":true}},
  "y": {"field": "p", "type": "quantitative", "title": null},
  "color": {"field": "kind", "type": "nominal", "scale": {"domain": ["last", "price", "indicator"], "range": ["#1d4f25", "#22b84c", "#0a0af0"]}, "legend": null}
 }
},
{
 "data": {"name": "tags"},
 "mark": {"type": "text", "clip": false, "color": "#ffffff", "font": "Liberation Sans", "fontSize": 9, "align": "center", "baseline": "middle"},
 "encoding": {
  "x": {"datum": {"year":2018,"month":10,"date":2,"hours":2,"minutes":45,"utc":true}, "type": "temporal", "title": null},
  "y": {"field": "p", "type": "quantitative", "title": null},
  "text": {"field": "tag"}
 }
}
]
}
